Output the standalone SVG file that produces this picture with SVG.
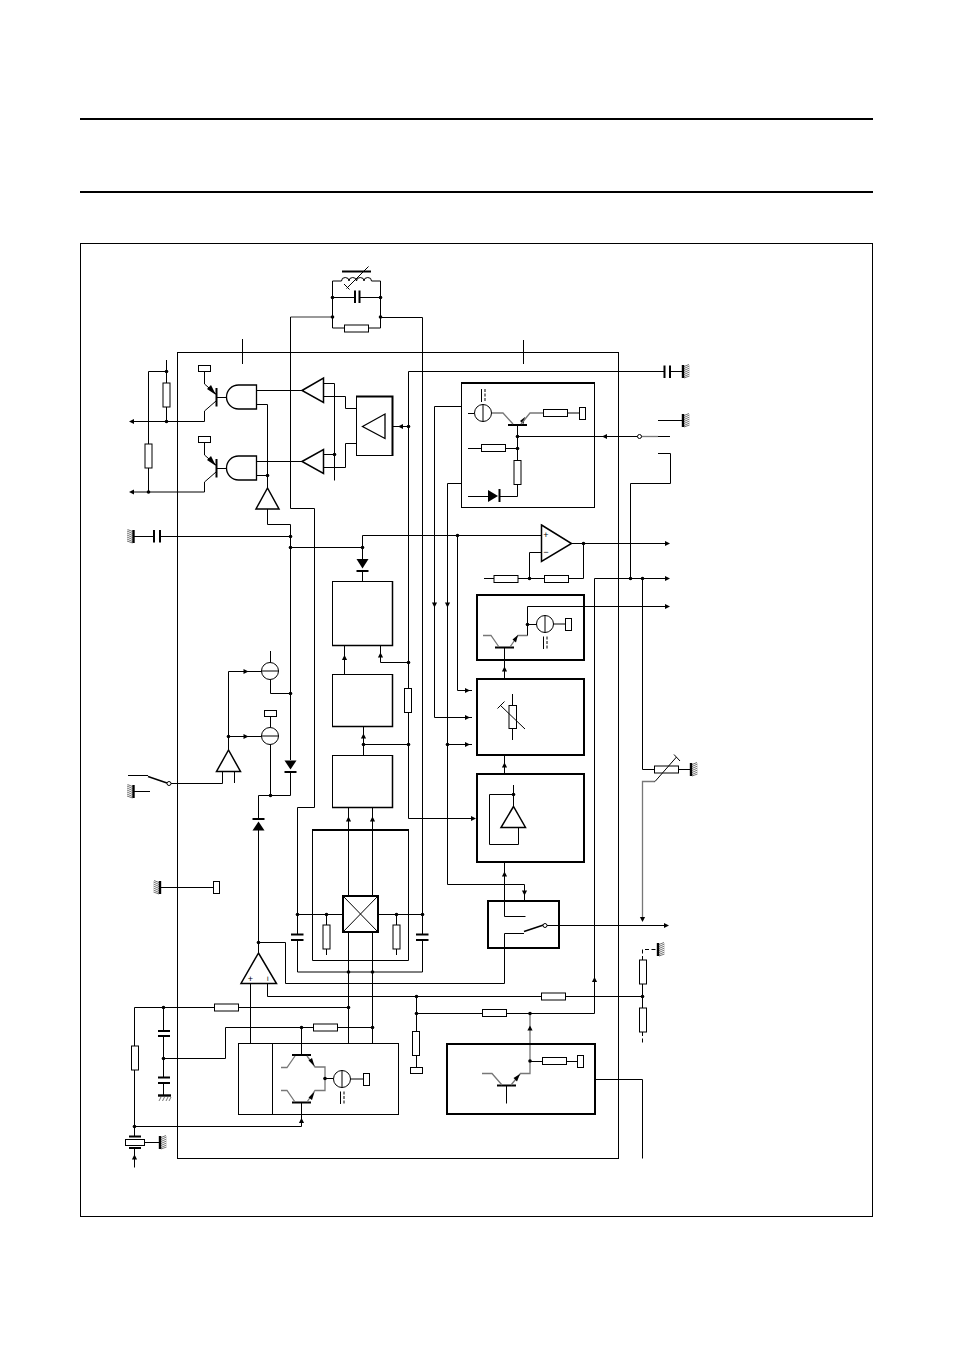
<svg xmlns="http://www.w3.org/2000/svg" xmlns:xlink="http://www.w3.org/1999/xlink" width="954" height="1348" viewBox="0 0 954 1348">
<style>
.w,.g,.t,.m,.n,.f,.da{fill:none;stroke:#000;stroke-width:1}
.g{stroke:#777;stroke-width:1.3}
.t{stroke-width:2}
.m{stroke-width:1.5}
.n{fill:#fff}
.f{fill:#000;stroke:none}
.da{stroke-dasharray:4 2.5}
.h{fill:none;stroke:#666;stroke-width:.9}
.b{fill:#fff;stroke:#000;stroke-width:2}
.s{font-family:"Liberation Sans",Arial,sans-serif;font-size:9px;fill:#000;text-anchor:middle}
</style>
<defs>
<path id="a" class="f" d="M0 0L-5 -2.6V2.6Z"/>
<circle id="d" class="f" r="1.8"/>
<circle id="o" r="2" fill="#fff" stroke="#000"/>
<g id="gr"><path class="h" d="M1 -5L6 -7M1 -3L6.5 -5.5M1 -1L6.5 -3.5M1 1L6.5 -1.5M1 3L6.5 .5M1 5L6.5 2.5M1 6.5L6.5 4.5"/><path class="t" d="M0 -6.5V6.5" style="stroke-width:2.4"/></g>
<g id="rv"><rect class="n" x="-3.5" y="-12" width="7" height="24"/></g>
<g id="rh"><rect class="n" x="-12" y="-3.5" width="24" height="7"/></g>
<rect id="pv" class="n" x="-3" y="-6" width="6" height="12"/>
<rect id="ph" class="n" x="-6" y="-3" width="12" height="6"/>
</defs>
<g id="page-rules">
<path class="t" d="M80 119H873M80 192H873"/>
<rect class="w" x="80.5" y="243.5" width="792" height="973"/>
</g>
<g id="ic-outline"><rect class="w" x="177.5" y="352.5" width="441" height="806"/></g>
<g id="connectors">
<path class="w" d="M242.5 339V364M523.5 340V364"/>
<path class="w" d="M332.5 281V328H344.5M369 328H380.5V281M332.5 297.5H355M359 297.5H380.5"/>
<path class="g" d="M332.5 317H290.5"/>
<path class="w" d="M290.5 317V508.5H314.5V807.5H297.5V934.5M297.5 940V972H422.5V940M422.5 934V317.5H380.5"/>
<path class="w" d="M166.5 360V383M166.5 407V421.5M148.5 371.5H166.5M148.5 371.5V444M148.5 468V492M134 421.5H204.5V411L216 401"/>
<path class="w" d="M134 492H204.5V482L216 472"/>
<path class="w" d="M204.5 371.5V384L216 394M204.5 442.5V455L216 465"/>
<path class="w" d="M217 397.5H227M217 468.5H227"/>
<path class="w" d="M256.5 390.5H302M256.5 404.5H267.5V488M256.5 461.5H302M256.5 475.5H267.5"/>
<path class="w" d="M323.5 383.5H334.5V480.5M323.5 454.5H334.5M323.5 396.5H345.5V408.5H356.5M323.5 467.5H345.5V443.5H356.5"/>
<path class="w" d="M392.5 426.5H408.5M408.5 688V371.5H664M670 371.5H682M408.5 712V818.5H472"/>
<path class="w" d="M267.5 509V524.5H290.5V760M290.5 772V795.5H258.5V819M258.5 830V953"/>
<path class="w" d="M134 536.5H154M160 536.5H290.5M290.5 547.5H362.5M362.5 559V535.5H541.5"/>
<path class="w" d="M362.5 571V581M344.5 674V645M380.5 645V662.5H408.5M363.5 755V726M363.5 744.5H408.5M348.5 896V807M372.5 896V807M348.5 932V1043M372.5 932V1043"/>
<path class="w" d="M297.5 914.5H342.5M378 914.5H422.5M326.5 914.5V925M396.5 914.5V925M326.5 949V955M396.5 949V955"/>
<path class="w" d="M258.5 942.5H285.5V983.5H504.5V933.5H525M504.5 916.5H525.5M504.5 916.5V862M267.5 983V996.5H541M565 996.5H642.5"/>
<path class="w" d="M250.5 983V1043.5M134.5 1046V1007.5H214M238 1007.5H348.5M134.5 1070V1136M134.5 1126.5H301.5V1114M163.5 1007.5V1031M163.5 1036V1078M163.5 1083V1095M163.5 1058.5H225.5V1027.5H313M337 1027.5H372.5M301.5 1027.5V1055M301.5 1102.5V1114"/>
<path class="w" d="M145 1142.5H159M134.5 1148V1167.5"/>
<path class="w" d="M228.5 750V671.5H262M228.5 736.5H262M270.5 651V663M270.5 679V693.5H290.5M270.5 717V727M270.5 744V795.5M222.5 772V783.5H171M234.5 772V783M128 775.5H148"/>
<path class="m" d="M148 776.5L167 783"/>
<path class="w" d="M133 791.5H150M160 887.5H213"/>
<path class="w" d="M468 413.5H474M447.5 483.5H461M434.5 717.5V406.5H461M447.5 483.5V884.5H524.5V900M434.5 717.5H472M447.5 744.5H472M457.5 535.5V690.5H472"/>
<path class="w" d="M517.5 436.5H639"/>
<path class="g" d="M641 436.5H658"/>
<path class="w" d="M658 436.5H670M658 420.5H682M658 453.5H670.5V483.5H630.5V578"/>
<path class="w" d="M529.5 552.5H541.5M529.5 552.5V578.5M484 578.5H494M518 578.5H544M568 578.5H583.5V543.5M571.5 543.5H666M594.5 1013.5V578.5H666M642.5 578.5V769.5H654"/>
<path class="w" d="M679 769.5H690"/>
<path class="g" d="M655 781.5H642.5V918"/>
<path class="w" d="M504.5 678V648M527.5 635.5V606.5H666M527.5 624.5H537"/>
<path class="w" d="M504.5 773V755M504.5 900V862"/>
<path class="w" d="M543 925.5H666"/>
<path class="w" d="M642.5 984V1008M642.5 1079.5H595M642.5 1079.5V1158.5"/>
<path class="da" d="M642.5 1032V1043M642.5 960V949.5H657"/>
<path class="w" d="M416.5 996.5V1031M416.5 1055V1067M416.5 1013.5H482M506 1013.5H594.5"/>
<path class="g" d="M530 1013V1043"/>
</g>
<g id="arrows">
<use xlink:href="#a" transform="translate(129 421.5) rotate(180)"/>
<use xlink:href="#a" transform="translate(129 492) rotate(180)"/>
<use xlink:href="#a" transform="translate(398 426.5) rotate(180)"/>
<use xlink:href="#a" transform="translate(344.5 655) rotate(-90)"/>
<use xlink:href="#a" transform="translate(380.5 652.5) rotate(-90)"/>
<use xlink:href="#a" transform="translate(363.5 733.5) rotate(-90)"/>
<use xlink:href="#a" transform="translate(348.5 816.5) rotate(-90)"/>
<use xlink:href="#a" transform="translate(372.5 816.5) rotate(-90)"/>
<use xlink:href="#a" transform="translate(248.5 671.5)"/>
<use xlink:href="#a" transform="translate(248.5 736.5)"/>
<use xlink:href="#a" transform="translate(476 818.5)"/>
<use xlink:href="#a" transform="translate(470 690.5)"/>
<use xlink:href="#a" transform="translate(470 717.5)"/>
<use xlink:href="#a" transform="translate(470 744.5)"/>
<use xlink:href="#a" transform="translate(434.5 607.5) rotate(90)"/>
<use xlink:href="#a" transform="translate(447.5 607.5) rotate(90)"/>
<use xlink:href="#a" transform="translate(602 436.5) rotate(180)"/>
<use xlink:href="#a" transform="translate(670 543.5)"/>
<use xlink:href="#a" transform="translate(670 578.5)"/>
<use xlink:href="#a" transform="translate(670 606.5)"/>
<use xlink:href="#a" transform="translate(669 925.5)"/>
<use xlink:href="#a" transform="translate(504.5 666.5) rotate(-90)"/>
<use xlink:href="#a" transform="translate(504.5 762.5) rotate(-90)"/>
<use xlink:href="#a" transform="translate(504.5 871.5) rotate(-90)"/>
<use xlink:href="#a" transform="translate(524.5 895.5) rotate(90)"/>
<use xlink:href="#a" transform="translate(642.5 922) rotate(90)"/>
<use xlink:href="#a" transform="translate(594.5 977) rotate(-90)"/>
<use xlink:href="#a" transform="translate(530 1025.5) rotate(-90)"/>
<use xlink:href="#a" transform="translate(301.5 1118) rotate(-90)"/>
<use xlink:href="#a" transform="translate(134.5 1154.5) rotate(-90)"/>
</g>
<g id="junctions">
<use xlink:href="#d" x="332.5" y="297.5"/><use xlink:href="#d" x="380.5" y="297.5"/><use xlink:href="#d" x="332.5" y="317"/><use xlink:href="#d" x="380.5" y="317"/>
<use xlink:href="#d" x="166.5" y="371.5"/><use xlink:href="#d" x="166.5" y="421.5"/><use xlink:href="#d" x="148.5" y="492"/>
<use xlink:href="#d" x="334.5" y="454.5"/><use xlink:href="#d" x="267.5" y="475.5"/><use xlink:href="#d" x="408.5" y="426.5"/>
<use xlink:href="#d" x="290.5" y="536.5"/><use xlink:href="#d" x="290.5" y="547.5"/><use xlink:href="#d" x="362.5" y="547.5"/><use xlink:href="#d" x="457.5" y="535.5"/>
<use xlink:href="#d" x="408.5" y="662.5"/><use xlink:href="#d" x="408.5" y="744.5"/><use xlink:href="#d" x="363.5" y="744.5"/>
<use xlink:href="#d" x="290.5" y="693.5"/><use xlink:href="#d" x="228.5" y="736.5"/><use xlink:href="#d" x="270.5" y="795.5"/>
<use xlink:href="#d" x="297.5" y="914.5"/><use xlink:href="#d" x="422.5" y="914.5"/>
<use xlink:href="#d" x="348.5" y="972"/><use xlink:href="#d" x="372.5" y="972"/><use xlink:href="#d" x="348.5" y="1007.5"/><use xlink:href="#d" x="372.5" y="1027.5"/><use xlink:href="#d" x="301.5" y="1027.5"/>
<use xlink:href="#d" x="258.5" y="942.5"/><use xlink:href="#d" x="416.5" y="996.5"/><use xlink:href="#d" x="416.5" y="1013.5"/><use xlink:href="#d" x="530" y="1013.5"/>
<use xlink:href="#d" x="642.5" y="996.5"/><use xlink:href="#d" x="163.5" y="1007.5"/><use xlink:href="#d" x="163.5" y="1058.5"/><use xlink:href="#d" x="134.5" y="1126.5"/>
<use xlink:href="#d" x="583.5" y="543.5"/><use xlink:href="#d" x="529.5" y="578.5"/>
<use xlink:href="#d" x="630.5" y="578.5"/><use xlink:href="#d" x="642.5" y="578.5"/><use xlink:href="#d" x="447.5" y="744.5"/>
</g>
<g id="lc-tank">
<path class="t" d="M342 271.5H371"/>
<path class="w" d="M341.5 281a3.75 3.5 0 0 1 7.5 0a3.75 3.5 0 0 1 7.5 0a3.75 3.5 0 0 1 7.5 0a3.75 3.5 0 0 1 7.5 0H380.5M332.5 281H341.5M346.5 288.5L368.5 266.5M344 284L349.5 289.5"/>
<path class="t" d="M355 290.5V303M359.5 290.5V303"/>
<use xlink:href="#rh" x="356.5" y="328.5"/>
</g>
<g id="r-ext-1"><use xlink:href="#rv" x="166.5" y="395"/></g>
<g id="r-ext-2"><use xlink:href="#rv" x="148.5" y="456"/></g>
<g id="driver-upper">
<use xlink:href="#ph" x="204.5" y="368.5"/>
<path class="t" d="M216.5 388V406.5"/>
<path class="f" d="M216 395L207 389L211 385Z"/>
<path class="n" style="stroke-width:1.3" d="M256.5 385H238.5A12 12 0 0 0 238.5 409H256.5Z"/>
</g>
<g id="driver-lower">
<use xlink:href="#ph" x="204.5" y="439.5"/>
<path class="t" d="M216.5 459V477.5"/>
<path class="f" d="M216 466L207 460L211 456Z"/>
<path class="n" style="stroke-width:1.3" d="M256.5 456H238.5A12 12 0 0 0 238.5 480H256.5Z"/>
</g>
<g id="buf-upper"><path class="n" style="stroke-width:1.5" d="M302 390.5L323.5 378V402.5Z"/></g>
<g id="buf-lower"><path class="n" style="stroke-width:1.5" d="M302 461.5L323.5 449.5V473.5Z"/></g>
<g id="buf-enable"><path class="n" style="stroke-width:1.5" d="M267.5 488L256 509H279Z"/></g>
<g id="pre-amp">
<rect class="n" x="356.5" y="396.5" width="36" height="59"/>
<path class="t" d="M356 396.5H392.5V456"/>
<path class="n" style="stroke-width:1.3" d="M362.5 426.5L385 414V438.5Z"/>
</g>
<g id="cap-top"><path class="t" d="M664.5 365.5V378M670 365.5V378"/><use xlink:href="#gr" x="683" y="371.5"/></g>
<g id="gnd-top-right"><use xlink:href="#gr" x="683" y="420.5"/></g>
<g id="block-f">
<rect class="n" x="461.5" y="382.5" width="133" height="125"/>
<path class="t" d="M461 383H595"/>
<circle class="n" cx="483" cy="413" r="8.5"/><path class="w" d="M483 404.5V421.5"/>
<path class="w" d="M481.5 389V402"/><path class="da" d="M485 389V402" style="stroke-dasharray:3 1.5"/>
<path class="t" d="M508 425H527"/>
<path class="f" d="M525 417L520 421L523.5 424Z"/>
<path class="w" d="M517.5 425V460M517.5 484V496.5H499.5M488 496.5H468M468 413.5H474M468 448.5H481M505 448.5H517.5M517.5 436.5H594"/>
<path class="g" d="M492 413H503L513 424M521 424L530 413H543"/>
<path class="w" d="M567 413H579"/>
<use xlink:href="#rh" x="555.5" y="413"/>
<use xlink:href="#pv" x="582.5" y="413.5"/>
<use xlink:href="#rh" x="493.5" y="448"/>
<use xlink:href="#rv" x="517.5" y="472.5"/>
<path class="f" d="M488 490V502L498 496Z"/><path class="t" d="M499.5 489V502"/>
<use xlink:href="#d" x="517.5" y="436.5"/><use xlink:href="#d" x="517.5" y="448.5"/>
</g>
<g id="switch-top"><use xlink:href="#o" x="639.5" y="436.5"/></g>
<g id="opamp-out">
<path class="n" style="stroke-width:1.5" d="M541.5 525L571.5 543.5L541.5 561.5Z"/>
<text class="s" x="546" y="538">+</text><text class="s" x="546" y="555">−</text>
<use xlink:href="#rh" x="506" y="579"/><use xlink:href="#rh" x="556.5" y="579"/>
</g>
<g id="gnd-cap-left"><use xlink:href="#gr" transform="translate(133.5 536.5) scale(-1 1)"/><path class="t" d="M154 530V542.5M160 530V542.5"/></g>
<g id="diode-top"><path class="f" d="M356.5 559H368.5L362.5 568.5Z"/><path class="t" d="M356.5 571H368.5"/></g>
<g id="box-a"><rect class="n" x="332.5" y="581.5" width="60" height="64"/><path class="m" d="M392.5 581V645.5H332"/></g>
<g id="box-b"><rect class="n" x="332.5" y="674.5" width="60" height="52"/><path class="m" d="M392.5 674V726.5H332"/></g>
<g id="box-c"><rect class="n" x="332.5" y="755.5" width="60" height="52"/><path class="m" d="M392.5 755V807.5H332"/></g>
<g id="r-mid"><use xlink:href="#rv" x="408" y="700.5"/></g>
<g id="block-h">
<rect class="b" x="477" y="595" width="107" height="65"/>
<path class="t" d="M495 647.5H514"/>
<path class="g" d="M483 635.5H491L499 647M510 647L518 635.5H527.5"/>
<path class="w" d="M527.5 635.5V606.5H583M527.5 624.5H537"/>
<path class="f" d="M518 635L512.5 639.5L516 642.5Z"/>
<circle class="n" cx="545" cy="624" r="8.5"/><path class="w" d="M545 615.5V632.5M553.5 624H565"/>
<use xlink:href="#pv" x="568.5" y="624.5"/>
<path class="w" d="M543.5 636.5V649"/><path class="da" d="M547 636.5V649" style="stroke-dasharray:3 1.5"/>
<path class="w" d="M504.5 648V659"/>
<use xlink:href="#d" x="527.5" y="624.5"/>
</g>
<g id="block-j">
<rect class="b" x="477" y="679" width="107" height="76"/>
<path class="w" d="M512.5 694V705M512.5 728V740"/>
<rect class="n" x="509" y="705.5" width="7.5" height="23"/>
<path class="w" d="M500 705L525 729M497.5 708.5L504.5 701.5"/>
</g>
<g id="block-k">
<rect class="b" x="477" y="774" width="107" height="88"/>
<path class="w" d="M513.5 785V807M513.5 794.5H489.5V844.5H518.5V828"/>
<path class="n" style="stroke-width:1.5" d="M513.5 806.5L501 827.5H525.5Z"/>
<use xlink:href="#d" x="513.5" y="794.5"/>
</g>
<g id="block-e">
<rect class="b" x="488" y="901" width="71" height="47"/>
<path class="w" d="M504.5 902V916.5H525.5M504.5 947V933.5H524M558 925.5H547"/>
<path class="m" d="M524 931.5L543.5 925"/>
<use xlink:href="#o" x="545" y="925.5"/>
</g>
<g id="mixer-block">
<path class="w" d="M312.5 830V960.5H408.5V830"/>
<path class="t" d="M312 830H409"/>
<path class="w" d="M297.5 914.5H343M378 914.5H408.5"/>
<rect class="b" x="343" y="896" width="35" height="36"/>
<path class="w" d="M343 896L378 932M378 896L343 932"/>
<use xlink:href="#rv" x="326.5" y="937"/><use xlink:href="#rv" x="396.5" y="937"/>
<use xlink:href="#d" x="326.5" y="914.5"/><use xlink:href="#d" x="396.5" y="914.5"/>
</g>
<g id="cap-filter-l"><path class="t" d="M291 934.5H303.5M291 940H303.5"/></g>
<g id="cap-filter-r"><path class="t" d="M416 934.5H428.5M416 940H428.5"/></g>
<g id="limiter">
<path class="n" style="stroke-width:1.5" d="M258.5 953L241 983.5H276.5Z"/>
<text class="s" x="250.5" y="982">+</text>
<text class="s" transform="translate(267.5 978.5) rotate(90)" x="0" y="3">−</text>
</g>
<g id="diode-a"><path class="f" d="M284.5 760.5H296.5L290.5 769.5Z"/><path class="t" d="M284.5 772H296.5"/></g>
<g id="diode-b"><path class="f" d="M252.5 830.5H264.5L258.5 821.5Z"/><path class="t" d="M252.5 819H264.5"/></g>
<g id="source-1"><circle class="n" cx="270" cy="671" r="8.5"/><path class="w" d="M261.5 671H278.5"/></g>
<g id="source-2"><use xlink:href="#ph" x="270.5" y="713.5"/><circle class="n" cx="270" cy="736" r="8.5"/><path class="w" d="M261.5 736H278.5"/></g>
<g id="buf-mode"><path class="n" style="stroke-width:1.5" d="M228.5 750L216.5 771.5H240.5Z"/></g>
<g id="mode-switch"><use xlink:href="#o" x="169" y="783.5"/><use xlink:href="#gr" transform="translate(133.5 791.5) scale(-1 1)"/></g>
<g id="gnd-pin"><use xlink:href="#gr" transform="translate(160 887.5) scale(-1 1)"/><use xlink:href="#pv" x="216.5" y="887.5"/></g>
<g id="var-r">
<use xlink:href="#rh" x="666.5" y="769.5"/>
<path class="w" d="M655 781.5L676.5 757M674 754.5L680 761"/>
<use xlink:href="#gr" x="691" y="769.5"/>
</g>
<g id="r-right-a"><use xlink:href="#rv" x="643" y="972"/><use xlink:href="#gr" x="658" y="949.5"/></g>
<g id="r-right-b"><use xlink:href="#rv" x="643" y="1020"/></g>
<g id="r-fb-1"><use xlink:href="#rh" x="553.5" y="996.5"/></g>
<g id="r-fb-2"><use xlink:href="#rh" x="494.5" y="1013"/></g>
<g id="r-low"><use xlink:href="#rv" x="416" y="1043.5"/><use xlink:href="#ph" x="416.5" y="1070.5"/></g>
<g id="block-g">
<rect class="b" x="447" y="1044" width="148" height="70"/>
<path class="t" d="M497 1085.5H516"/>
<path class="w" d="M506.5 1086V1103.5"/>
<path class="g" d="M482 1073.5H492L502 1085M511 1085L520.5 1073.5H530V1045"/>
<path class="f" d="M520 1074L513.5 1078L517 1081.5Z"/>
<path class="w" d="M530 1061.5H577"/>
<use xlink:href="#rh" x="554.5" y="1061"/><use xlink:href="#pv" x="580.5" y="1061.5"/>
<use xlink:href="#d" x="530" y="1061"/>
</g>
<g id="r-osc"><use xlink:href="#rh" x="226.5" y="1007.5"/><use xlink:href="#rh" x="325.5" y="1027.5"/><use xlink:href="#rv" x="135" y="1058"/></g>
<g id="caps-osc">
<path class="t" d="M158 1031H170M158 1036H170M158 1077.5H170M158 1083H170"/>
<path class="t" d="M158 1095.5H171" style="stroke-width:2.4"/>
<path class="h" d="M159 1101L161 1097M162.5 1101L164.5 1097M166 1101L168 1097M169 1101L171 1097"/>
</g>
<g id="osc-block">
<rect class="n" x="238.5" y="1043.5" width="160" height="71"/>
<path class="w" d="M272.5 1043.5V1114.5"/>
<path class="t" d="M292 1055H311M292 1102.5H311"/>
<path class="w" d="M301.5 1043.5V1055M301.5 1102.5V1114.5"/>
<path class="g" d="M281 1067.5H287L295 1056M281 1090.5H287L295 1102"/>
<path class="g" d="M307 1056L315 1067H325V1090.5H315L307 1102"/>
<path class="f" d="M314.5 1066L308.5 1060.5L312 1058ZM314.5 1092L308.5 1097.5L312 1100Z"/>
<use xlink:href="#d" x="325" y="1078.5"/>
<path class="w" d="M325 1078.5H333M350.5 1079H363"/>
<circle class="n" cx="342" cy="1079" r="8.5"/><path class="w" d="M342 1070.5V1087.5"/>
<use xlink:href="#pv" x="366.5" y="1079.5"/>
<path class="w" d="M340.5 1091.5V1104"/><path class="da" d="M344 1091.5V1104" style="stroke-dasharray:3 1.5"/>
</g>
<g id="crystal">
<path class="t" d="M129 1136.5H141M129 1148H141"/>
<rect class="n" x="125.5" y="1139.5" width="19" height="6"/>
<use xlink:href="#gr" x="160" y="1142.5"/>
</g>
</svg>
